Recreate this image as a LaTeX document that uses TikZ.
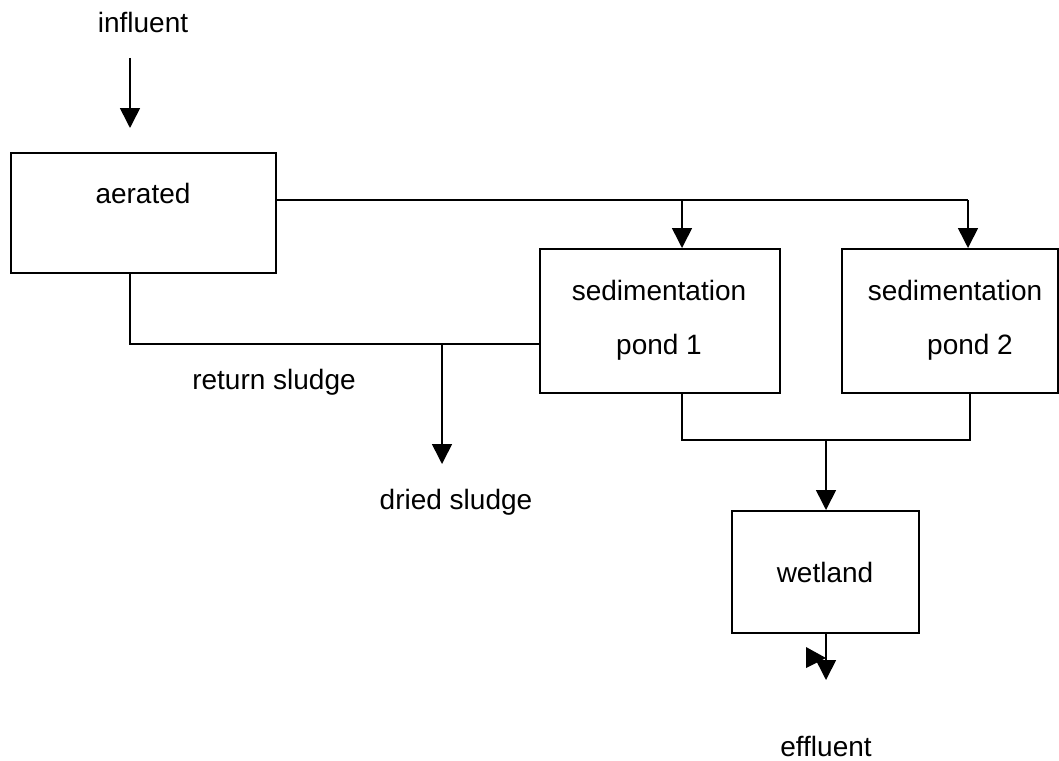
\documentclass[tikz,border=0pt]{standalone}
\usepackage{fontspec}
\setmainfont{Liberation Sans}
\usetikzlibrary{arrows.meta}
\begin{document}
\begin{tikzpicture}[x=1pt,y=-1pt,
  line width=1.6pt,
  box/.style={draw, line width=1.6pt, anchor=north west, inner sep=0pt},
  lbl/.style={font=\fontsize{28}{32}\selectfont, inner sep=0pt},
  flow/.style={-{Triangle[width=20pt,length=20pt]}}]
\useasboundingbox (0,0) rectangle (1059,760);
% boxes
\node[box, minimum width=265pt, minimum height=120pt] (aer) at (10,152) {};
\node[box, minimum width=240pt, minimum height=144pt] (s1) at (539,248) {};
\node[box, minimum width=216pt, minimum height=144pt] (s2) at (841,248) {};
\node[box, minimum width=187pt, minimum height=122pt] (wet) at (731,510) {};
% texts
\node[lbl] (tinf) at (143,22) {influent};
\node[lbl] (taer) at (143,193) {aerated};
\node[lbl] (ts1a) at (659,290) {sedimentation};
\node[lbl] (ts1b) at (659,347) {pond 1};
\node[lbl] (ts2a) at (955,290) {sedimentation};
\node[lbl] (ts2b) at (970,347) {pond 2};
\node[lbl] (tret) at (274,382) {return sludge};
\node[lbl] (tdry) at (456,502) {dried sludge};
\node[lbl] (twet) at (825,572) {wetland};
\node[lbl] (teff) at (826,746) {effluent};
% helper coordinates
\coordinate (inA) at (130,58);
\coordinate (j1) at (682,200);
\coordinate (j2) at (968,200);
\coordinate (rA) at (130,344);
\coordinate (dA) at (442,344);
\coordinate (dB) at (442,464);
\coordinate (b1) at (682,440);
\coordinate (b2) at (970,440);
\coordinate (bm) at (826,440);
\coordinate (eA) at (826,680);
% connectors
\draw[flow] (inA) -- (130,128);
\draw (aer.east |- j1) -- (j2);
\draw[flow] (j1) -- (j1 |- s1.north);
\draw[flow] (j2) -- (j2 |- s2.north);
\draw (aer.south -| rA) -- (rA) -- (s1.west |- rA);
\draw[flow] (dA) -- (dB);
\draw (s1.south -| b1) -- (b1) -- (b2) -- (s2.south -| b2);
\draw[flow] (bm) -- (bm |- wet.north);
\draw[flow] (wet.south -| eA) -- (eA);
\fill (806,647) -- (826,658) -- (806,668) -- cycle;
\end{tikzpicture}
\end{document}
